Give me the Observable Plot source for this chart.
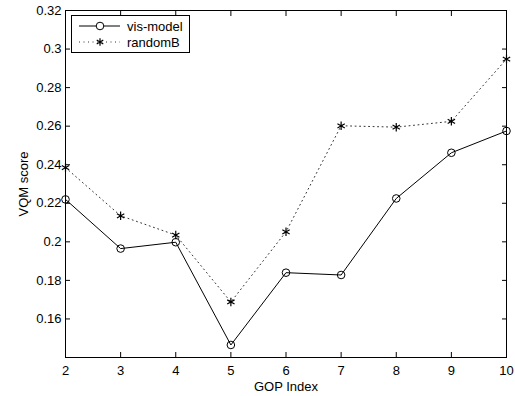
<!DOCTYPE html>
<html><head><meta charset="utf-8">
<script src="https://cdn.jsdelivr.net/npm/d3@7"></script>
<script src="https://cdn.jsdelivr.net/npm/@observablehq/plot@0.6"></script>
<style>body{margin:0;background:#fff}#chart{position:relative;width:515px;height:396px}</style>
</head><body><div id="chart"></div>
<script>
const gop = [2, 3, 4, 5, 6, 7, 8, 9, 10];
const visModel = [0.222, 0.1965, 0.1998, 0.1465, 0.184, 0.1828, 0.2225, 0.2462, 0.2575];
const randomB = [0.2385, 0.2135, 0.2035, 0.1688, 0.2052, 0.2602, 0.2595, 0.2625, 0.2948];
const xTicks = [2, 3, 4, 5, 6, 7, 8, 9, 10];
const yTicks = [0.16, 0.18, 0.2, 0.22, 0.24, 0.26, 0.28, 0.3, 0.32];
const seriesNames = ["vis-model", "randomB"];
const xLabel = "GOP Index";
const yLabel = "VQM score";

const visData = gop.map((g, i) => ({g, v: visModel[i]}));
const rbData = gop.map((g, i) => ({g, v: randomB[i]}));
const font = "'Liberation Sans', Arial, Helvetica, sans-serif";

const plot = Plot.plot({
  width: 515, height: 396,
  marginLeft: 65, marginRight: 9, marginTop: 10, marginBottom: 39,
  style: {fontFamily: font, fontSize: "13px", color: "#000", background: "#fff"},
  x: {domain: [2, 10]},
  y: {domain: [0.14, 0.32]},
  marks: [
    Plot.axisX({anchor: "bottom", ticks: xTicks, tickSize: -5, tickPadding: 13, tickFormat: d => String(d),
      label: xLabel, labelAnchor: "center", labelOffset: 33, labelArrow: "none", fontSize: 13}),
    Plot.axisX({anchor: "top", ticks: xTicks, tickSize: -5, tickFormat: () => "", label: null}),
    Plot.axisY({anchor: "left", ticks: yTicks, tickSize: -5, tickPadding: 9, tickFormat: d => String(d),
      label: yLabel, labelAnchor: "center", labelOffset: 47, labelArrow: "none", fontSize: 13}),
    Plot.axisY({anchor: "right", ticks: yTicks, tickSize: -5, tickFormat: () => "", label: null}),
    Plot.line(rbData, {x: "g", y: "v", stroke: "#333", strokeWidth: 1, strokeDasharray: "1,3.5"}),
    Plot.line(visData, {x: "g", y: "v", stroke: "#000", strokeWidth: 1}),
    Plot.dot(visData, {x: "g", y: "v", r: 3.8, stroke: "#000", fill: "none", strokeWidth: 1}),
    Plot.dot(rbData, {x: "g", y: "v", r: 4, symbol: "asterisk", stroke: "#000", strokeWidth: 1.2}),
    Plot.frame({stroke: "#000", strokeWidth: 1})
  ]
});
document.getElementById("chart").appendChild(plot);

// Legend (MATLAB-style box in the upper left)
const svg = d3.select(plot);
const lg = svg.append("g").attr("font-family", font).attr("font-size", 13).attr("text-anchor", "start");
lg.append("rect").attr("x", 71.5).attr("y", 15.5).attr("width", 118).attr("height", 37)
  .attr("fill", "#fff").attr("stroke", "#000").attr("stroke-width", 1);
const rows = [26, 42];
lg.append("line").attr("x1", 79).attr("x2", 120).attr("y1", rows[0]).attr("y2", rows[0]).attr("stroke", "#000");
lg.append("circle").attr("cx", 100).attr("cy", rows[0]).attr("r", 3.8).attr("fill", "#fff").attr("stroke", "#000");
lg.append("line").attr("x1", 79).attr("x2", 120).attr("y1", rows[1]).attr("y2", rows[1]).attr("stroke", "#333").attr("stroke-dasharray", "1,3.5");
lg.append("path").attr("transform", `translate(100,${rows[1]})`).attr("d", d3.symbol(d3.symbolAsterisk, 40)())
  .attr("stroke", "#000").attr("stroke-width", 1.2).attr("fill", "none");
seriesNames.forEach((n, i) => {
  lg.append("text").attr("x", 127).attr("y", rows[i]).attr("dy", "0.35em").attr("fill", "#000").attr("text-anchor", "start").text(n);
});
</script>
</body></html>
